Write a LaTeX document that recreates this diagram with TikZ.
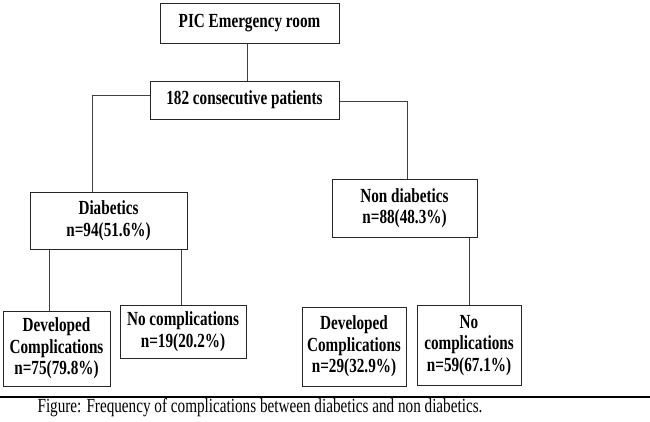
\documentclass[tikz,border=0pt]{standalone}
\usepackage{fontspec}
\setmainfont{Liberation Serif}[FakeStretch=0.76]
\begin{document}
\begin{tikzpicture}[x=1pt,y=-1pt,
  box/.style={draw=black!85,line width=1pt,align=center,inner sep=0pt,
    font=\fontsize{20}{21.5}\selectfont\bfseries},
  conn/.style={draw=black!75,line width=0.9pt}]
\useasboundingbox (0,0) rectangle (650,421);
\node[box,minimum width=179pt,minimum height=40pt] (top) at (249.5,23) {PIC Emergency room};
\node[box,minimum width=189pt,minimum height=38pt] (p) at (244.5,100) {182 consecutive patients};
\node[box,minimum width=157pt,minimum height=57pt] (d) at (108.5,220.5) {Diabetics\\n=94(51.6\%)};
\node[box,minimum width=145pt,minimum height=58pt] (nd) at (404.5,208) {Non diabetics\\n=88(48.3\%)};
\node[box,minimum width=107pt,minimum height=75pt] (devl) at (56.5,348.5) {Developed\\Complications\\n=75(79.8\%)};
\node[box,minimum width=126pt,minimum height=53pt] (ncl) at (183,331.5) {No complications\\n=19(20.2\%)};
\node[box,minimum width=104pt,minimum height=79pt] (devr) at (354,346.5) {Developed\\Complications\\n=29(32.9\%)};
\node[box,minimum width=104pt,minimum height=80pt] (ncr) at (469,345.5) {No\\complications\\n=59(67.1\%)};
\draw[conn] ([xshift=-2.5]top.south) -- ([xshift=-2.5]top.south |- p.north);
\draw[conn] ([yshift=5]p.west) -| ([xshift=-16.5]d.north);
\draw[conn] ([yshift=-1]p.east) -| ([xshift=2.5]nd.north);
\draw[conn] ([xshift=-7.5]devl.north) -- ([xshift=-7.5]devl.north |- d.south);
\draw[conn] ([xshift=-2]ncl.north) -- ([xshift=-2]ncl.north |- d.south);
\draw[conn] (ncr.north) -- (ncr.north |- nd.south);
\coordinate (rl) at (0,397);
\coordinate (rr) at (650,397);
\draw[line width=2.4pt,black] (rl) -- (rr);
\node[anchor=base,inner sep=0pt,font=\fontsize{20}{21}\selectfont] (cap) at (260,412) {Figure: Frequency of complications between diabetics and non diabetics.};
\end{tikzpicture}
\end{document}
